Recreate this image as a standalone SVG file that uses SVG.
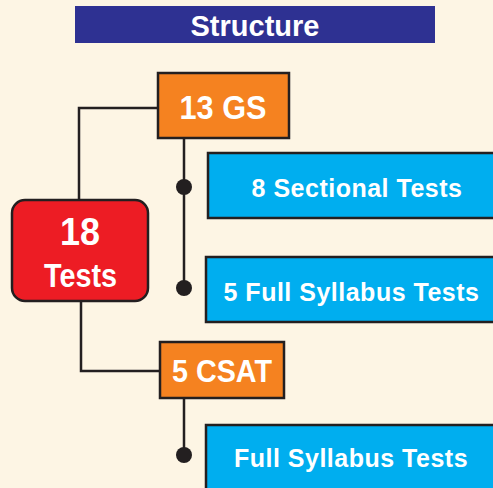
<svg xmlns="http://www.w3.org/2000/svg" width="493" height="488" viewBox="0 0 493 488">
<style>
text{font-family:"Liberation Sans",Arial,sans-serif;font-weight:bold;fill:#fff;text-anchor:middle}
.ln{stroke:#231f20;stroke-width:2.5;fill:none}
.or{fill:#f58220;stroke:#231f20;stroke-width:2.5}
.bl{fill:#00aeef;stroke:#231f20;stroke-width:2.5}
.dot{fill:#231f20}
.bt{font-size:25px;letter-spacing:0.5px}
</style>
<rect width="493" height="488" fill="#fdf5e4"/>
<g id="title">
<rect x="75" y="6" width="360" height="37" fill="#2e3192"/>
<text x="255" y="36" font-size="29">Structure</text>
</g>
<g id="connectors">
<polyline class="ln" points="158,108 79,108 79,200"/>
<polyline class="ln" points="81,301 81,371 160,371"/>
<line class="ln" x1="184" y1="138" x2="184" y2="288"/>
<line class="ln" x1="184" y1="398" x2="184" y2="455"/>
<circle class="dot" cx="184" cy="187" r="8"/>
<circle class="dot" cx="184" cy="288" r="8"/>
<circle class="dot" cx="184" cy="455" r="8"/>
</g>
<g id="gs">
<rect class="or" x="158" y="73" width="131" height="65"/>
<text x="223" y="119" font-size="33" textLength="87" lengthAdjust="spacingAndGlyphs">13 GS</text>
</g>
<g id="tests">
<rect x="12" y="200" width="136" height="101" rx="13" fill="#ed1c24" stroke="#231f20" stroke-width="2.5"/>
<text x="80" y="245" font-size="39" textLength="40" lengthAdjust="spacingAndGlyphs">18</text>
<text x="80.5" y="287" font-size="34" textLength="73" lengthAdjust="spacingAndGlyphs">Tests</text>
</g>
<g id="sectional">
<rect class="bl" x="208" y="153" width="300" height="65"/>
<text class="bt" x="357" y="197">8 Sectional Tests</text>
</g>
<g id="fullgs">
<rect class="bl" x="206" y="257" width="300" height="65"/>
<text class="bt" x="351.5" y="301">5 Full Syllabus Tests</text>
</g>
<g id="csat">
<rect class="or" x="160" y="342" width="124" height="56"/>
<text x="222" y="382" font-size="32" textLength="100" lengthAdjust="spacingAndGlyphs">5 CSAT</text>
</g>
<g id="fullcsat">
<rect class="bl" x="206" y="425" width="300" height="80"/>
<text class="bt" x="351" y="467">Full Syllabus Tests</text>
</g>
</svg>
